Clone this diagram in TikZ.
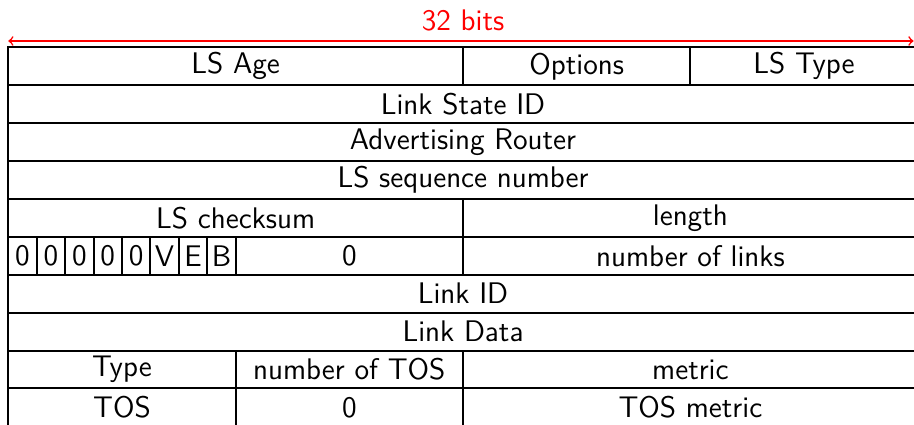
\documentclass[tikz,border=0pt]{standalone}
\usepackage{tikz}
\begin{document}
\begin{tikzpicture}[x=0.5pt,y=-0.5pt,
  cellline/.style={draw=black,line width=1pt},
  celltext/.style={font=\fontsize{14.9}{18}\selectfont\sffamily,inner sep=0pt},
  widthlabel/.style={font=\fontsize{14.9}{18}\selectfont\sffamily,text=red,inner sep=0pt},
  widtharrow/.style={draw=red,line width=0.8pt,<->}]
\useasboundingbox (0,0) rectangle (914,424);
% one field of the header: name, first bit, last bit + 1, row, label
\newcommand\fieldcell[5]{%
  \draw[cellline] ({8.3+28.42*#2},{47.3+37.9*#4}) rectangle ({8.3+28.42*#3},{47.3+37.9*(#4+1)});
  \node[celltext] (#1) at ({8.3+28.42*(#2+#3)/2},{47.3+37.9*(#4+0.5)}) {#5};}
% width of a header word
\coordinate (wl) at (8.3,41);
\coordinate (wr) at (913.5,41);
\draw[widtharrow] (wl) -- (wr);
\node[widthlabel] (bits) at (463,20) {32 bits};
% row 0
\fieldcell{age}{0}{16}{0}{LS Age}
\fieldcell{opt}{16}{24}{0}{Options}
\fieldcell{type}{24}{32}{0}{LS Type}
% rows 1-3
\fieldcell{lsid}{0}{32}{1}{Link State ID}
\fieldcell{adv}{0}{32}{2}{Advertising Router}
\fieldcell{seq}{0}{32}{3}{LS sequence number}
% row 4
\fieldcell{csum}{0}{16}{4}{LS checksum}
\fieldcell{len}{16}{32}{4}{length}
% row 5: flag bits
\fieldcell{fa}{0}{1}{5}{0}
\fieldcell{fb}{1}{2}{5}{0}
\fieldcell{fc}{2}{3}{5}{0}
\fieldcell{fd}{3}{4}{5}{0}
\fieldcell{fe}{4}{5}{5}{0}
\fieldcell{fv}{5}{6}{5}{V}
\fieldcell{fE}{6}{7}{5}{E}
\fieldcell{fB}{7}{8}{5}{B}
\fieldcell{zero}{8}{16}{5}{0}
\fieldcell{nlinks}{16}{32}{5}{number of links}
% rows 6-7
\fieldcell{lid}{0}{32}{6}{Link ID}
\fieldcell{ldata}{0}{32}{7}{Link Data}
% row 8
\fieldcell{ltype}{0}{8}{8}{Type}
\fieldcell{ntos}{8}{16}{8}{number of TOS}
\fieldcell{metric}{16}{32}{8}{metric}
% row 9
\fieldcell{tos}{0}{8}{9}{TOS}
\fieldcell{tzero}{8}{16}{9}{0}
\fieldcell{tmetric}{16}{32}{9}{TOS metric}
\end{tikzpicture}
\end{document}
